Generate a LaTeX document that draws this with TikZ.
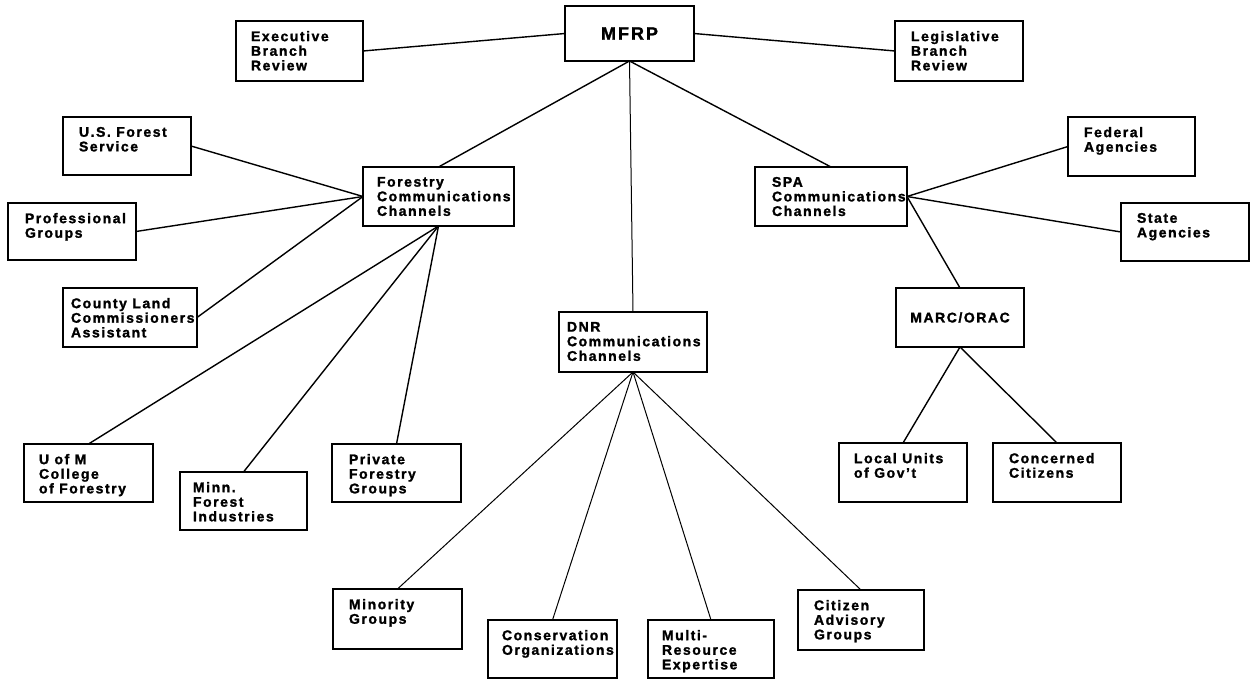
\documentclass[tikz,border=0pt]{standalone}
\usepackage{fontspec}
\setmainfont{Liberation Sans}[LetterSpace=11, BoldFeatures={FakeBold=1.5}]
\newcommand\bxfont{\fontsize{14}{14.6}\selectfont\bfseries}
\newcommand\bigfont{\fontsize{18}{20}\selectfont\bfseries}
\tikzset{
  bx/.style={draw, line width=1.1pt, rectangle, inner ysep=10pt, outer sep=0pt, font=\bxfont},
  cbx/.style={draw, line width=1.1pt, rectangle, inner sep=0pt, outer sep=0pt},
  ln/.style={line width=1.4pt},
  lnthin/.style={line width=1.0pt}
}
% name, x0, y0, x1, y1, left padding, text
\newcommand\bx[7]{%
  \node[bx, inner xsep=#6pt, anchor=north west] (#1) at (#2,#3)
  {\parbox[c][\dimexpr #5pt-#3pt-20pt\relax][t]{\dimexpr #4pt-#2pt-#6pt-#6pt\relax}{\raggedright #7}};}
\begin{document}
\begin{tikzpicture}[x=1pt,y=-1pt]
\useasboundingbox (0,0) rectangle (1252,679);
\fill[white] (0,0) rectangle (1252,679);

\node[cbx, minimum width=129pt, minimum height=55pt, font=\bigfont] (mfrp) at (629.5,33.5) {MFRP};
\bx{exec}{236}{21}{363}{81}{15}{Executive\\Branch\\Review}
\bx{leg}{895}{21}{1023}{81}{16}{Legislative\\Branch\\Review}
\bx{usfs}{63}{117}{191}{175}{16}{U.S. Forest\\Service}
\bx{prof}{8}{203}{136}{260}{17}{Professional\\Groups}
\bx{county}{63}{288}{197}{347}{8}{County Land\\Commissioners\\Assistant}
\bx{forestry}{363}{167}{514}{226}{14}{Forestry\\Communications\\Channels}
\bx{spa}{755}{167}{907}{226}{17}{SPA\\Communications\\Channels}
\bx{fed}{1068}{117}{1195}{176}{16}{Federal\\Agencies}
\bx{state}{1121}{203}{1249}{261}{16}{State\\Agencies}
\bx{dnr}{559}{312}{707}{372}{8}{DNR\\Communications\\Channels}
\node[cbx, minimum width=128pt, minimum height=59pt, font=\bxfont] (marc) at (960,317.5) {MARC/ORAC};
\bx{umn}{24}{444}{153}{502}{15}{U of M\\College\\of Forestry}
\bx{minn}{180}{472}{307}{530}{13}{Minn.\\Forest\\Industries}
\bx{private}{332}{444}{461}{502}{17}{Private\\Forestry\\Groups}
\bx{minority}{333}{589}{462}{649}{16}{Minority\\Groups}
\bx{conserv}{488}{620}{617}{678}{14}{Conservation\\Organizations}
\bx{multi}{648}{620}{774}{678}{14}{Multi-\\Resource\\Expertise}
\bx{citizen}{798}{590}{924}{650}{16}{Citizen\\Advisory\\Groups}
\bx{local}{839}{443}{967}{502}{15}{Local Units\\of Gov't}
\bx{concerned}{993}{443}{1121}{502}{16}{Concerned\\Citizens}

\draw[ln] (exec.east) -- (mfrp.west);
\draw[ln] (mfrp.east) -- (leg.west);
\draw[ln] (mfrp.south) -- (forestry.north);
\draw[ln] (mfrp.south) -- (spa.north);
\draw[lnthin] (mfrp.south) -- (dnr.north);
\draw[ln] (forestry.west) -- (usfs.east);
\draw[ln] (forestry.west) -- (prof.east);
\draw[ln] (forestry.west) -- (county.east);
\draw[ln] (forestry.south) -- (umn.north);
\draw[ln] (forestry.south) -- (minn.north);
\draw[ln] (forestry.south) -- (private.north);
\draw[ln] (spa.east) -- (fed.west);
\draw[ln] (spa.east) -- (state.west);
\draw[ln] (spa.east) -- (marc.north);
\draw[lnthin] (dnr.south) -- (minority.north);
\draw[lnthin] (dnr.south) -- (conserv.north);
\draw[lnthin] (dnr.south) -- (multi.north);
\draw[lnthin] (dnr.south) -- (citizen.north);
\draw[ln] (marc.south) -- (local.north);
\draw[ln] (marc.south) -- (concerned.north);
\end{tikzpicture}
\end{document}
